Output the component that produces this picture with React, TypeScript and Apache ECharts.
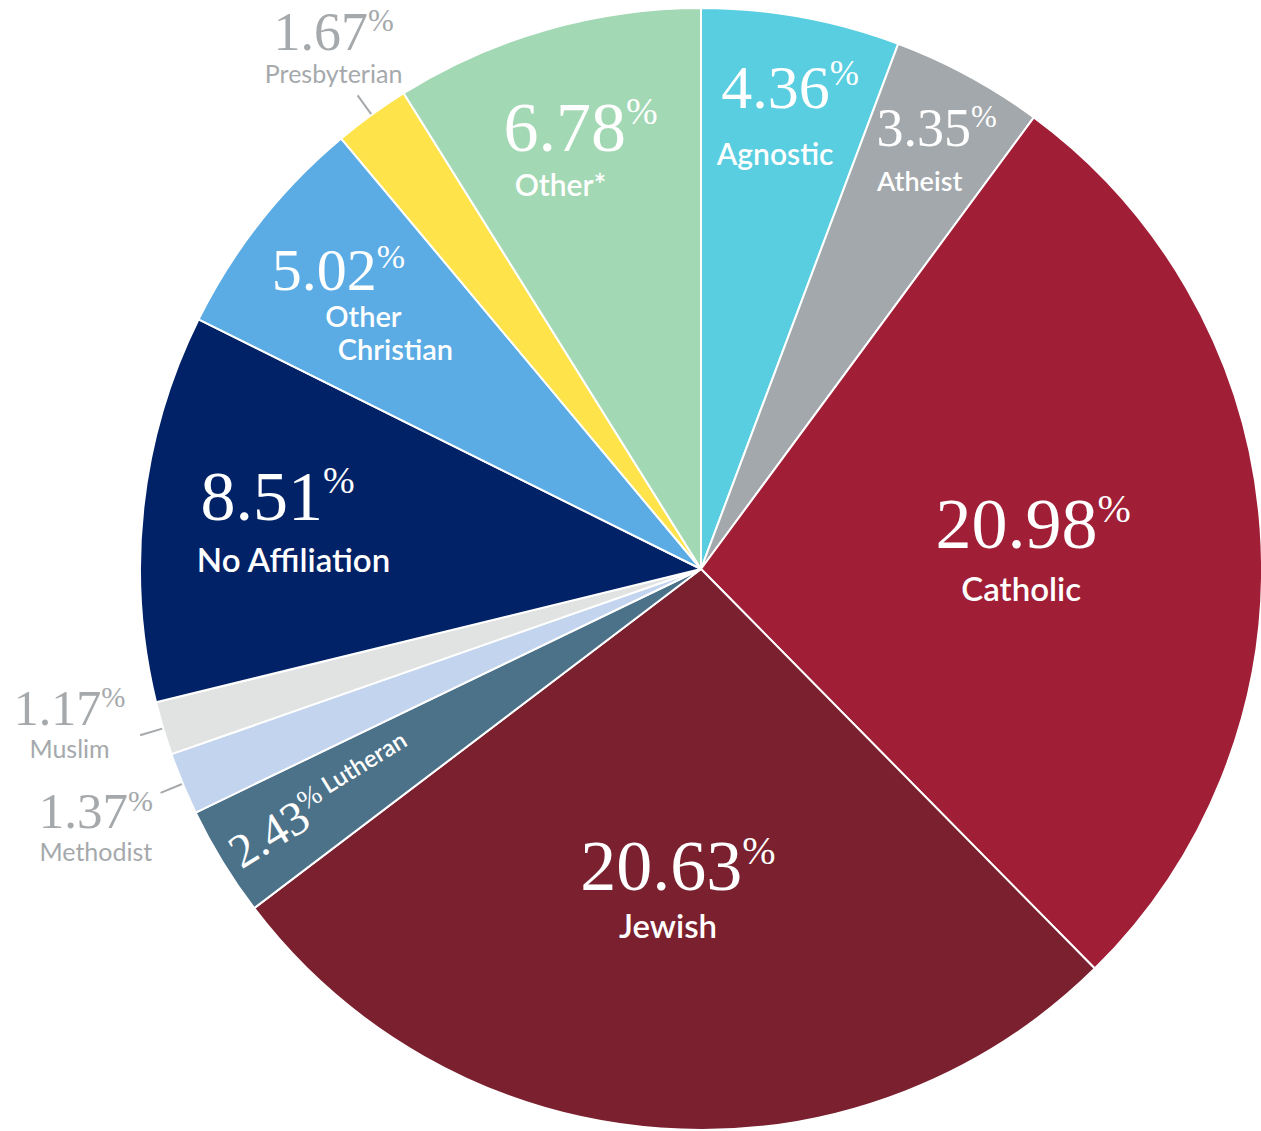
import React, { useEffect, useRef } from 'react';
import * as echarts from 'echarts';

// ---- Data ----
const categories = [
  'Agnostic',
  'Atheist',
  'Catholic',
  'Jewish',
  'Lutheran',
  'Methodist',
  'Muslim',
  'No Affiliation',
  'Other Christian',
  'Presbyterian',
  'Other*',
];
const values = [4.36, 3.35, 20.98, 20.63, 2.43, 1.37, 1.17, 8.51, 5.02, 1.67, 6.78];
const colors = [
  '#58CEE0',
  '#A2A8AB',
  '#A01E36',
  '#7A202E',
  '#4C7289',
  '#C2D4EE',
  '#E1E2E2',
  '#012266',
  '#5BACE4',
  '#FEE44A',
  '#A3D8B4',
];

// ---- Styles ----
const SERIF = '"Liberation Serif", "Times New Roman", serif';
const SANS = 'Lato, "Open Sans", sans-serif';
const GRAY = '#A5A9AC';
const CENTER = [701, 569];
const R = 561;

type LabelStyle = {
  r: number;
  ns: number;
  ps: number;
  ls: number;
  lh: number;
  lh2?: number;
  outside?: boolean;
  inline?: boolean;
  rotate?: any;
  display?: string;
  pPadR?: number;
  lPadR?: number;
  lPadL?: number;
  l2PadL?: number;
  pad?: number[];
};

const labelStyles: Record<string, LabelStyle> = {
  Agnostic: { r: 451, ns: 62, ps: 35, ls: 30, lh: 70, lPadR: 30, pad: [0, 0, 0, 16] },
  Atheist: { r: 470, ns: 54, ps: 31, ls: 27, lh: 50, lPadR: 34, pad: [0, 0, 0, 20] },
  Catholic: { r: 330, ns: 72, ps: 40, ls: 33, lh: 56, lPadR: 24, pad: [14, 0, 0, 0] },
  Jewish: { r: 318, ns: 72, ps: 40, ls: 33, lh: 46, lPadR: 20 },
  Lutheran: { r: 442, ns: 48, ps: 28, ls: 24, lh: 38, inline: true, rotate: 'radial' },
  Methodist: { r: 652, ns: 51, ps: 30, ls: 25, lh: 30, outside: true, pad: [12, 0, 0, 0] },
  Muslim: { r: 641, ns: 50, ps: 29, ls: 25, lh: 30, outside: true, pad: [0, 28, 58, 0] },
  'No Affiliation': { r: 407, ns: 70, ps: 38, ls: 33, lh: 55, pPadR: 32 },
  'Other Christian': { r: 427, ns: 60, ps: 34, ls: 29, lh: 32, lh2: 34, display: 'Other\nChristian', pPadR: 50, l2PadL: 64 },
  Presbyterian: { r: 640, ns: 54, ps: 31, ls: 25, lh: 28, outside: true, pad: [0, 0, 4, 20] },
  'Other*': { r: 434, ns: 70, ps: 38, ls: 30, lh: 43, lPadR: 40 },
};

function buildOption() {
  const mainSeries: any = {
    type: 'pie',
    center: CENTER,
    radius: [0, R],
    startAngle: 90,
    clockwise: true,
    avoidLabelOverlap: false,
    silent: true,
    emphasis: { disabled: true },
    label: { show: false },
    labelLine: { show: false },
    itemStyle: { borderColor: '#ffffff', borderWidth: 2 },
    data: categories.map((c, i) => {
      const st = labelStyles[c];
      const item: any = { name: c, value: values[i], itemStyle: { color: colors[i] } };
      if (st && st.outside) {
        item.label = { show: true, position: 'outside', formatter: ' ', fontSize: 2 };
        item.labelLine = {
          show: true,
          length: 24,
          length2: 0,
          lineStyle: { color: GRAY, width: 2 },
        };
      }
      return item;
    }),
  };

  const labelSeries = categories.map((c, idx) => {
    const st = labelStyles[c];
    const col = st.outside ? GRAY : '#ffffff';
    const weight = st.outside ? 400 : 600;
    const num = values[idx].toFixed(2);
    const nameText = st.display ?? c;
    let text: string;
    if (st.inline) {
      text = `{n|${num}}{p|%}{l| ${nameText}}`;
    } else {
      const lines = nameText.split('\n');
      text = `{n|${num}}{p|%}\n` + lines.map((ln, k) => `{${k === 0 ? 'l' : 'l2'}|${ln}}`).join('\n');
    }
    return {
      type: 'pie',
      center: CENTER,
      radius: [st.r - 1, st.r + 1],
      startAngle: 90,
      clockwise: true,
      avoidLabelOverlap: false,
      silent: true,
      z: 5,
      emphasis: { disabled: true },
      itemStyle: { color: 'rgba(0,0,0,0)', borderWidth: 0 },
      labelLine: { show: false },
      data: categories.map((c2, j) => ({
        name: c2,
        value: values[j],
        label: { show: j === idx },
      })),
      label: {
        position: 'inside',
        rotate: st.rotate ?? 0,
        padding: st.pad ?? 0,
        formatter: () => text,
        rich: {
          n: { fontFamily: SERIF, fontSize: st.ns, lineHeight: st.ns, color: col },
          p: {
            fontFamily: SERIF,
            fontSize: st.ps,
            lineHeight: st.ps,
            verticalAlign: 'top',
            color: col,
            padding: [0, st.pPadR ?? 0, 0, 0],
          },
          l: {
            fontFamily: SANS,
            fontSize: st.ls,
            fontWeight: weight,
            lineHeight: st.lh,
            color: col,
            verticalAlign: st.inline ? 'top' : 'middle',
            padding: [0, st.lPadR ?? 0, 0, st.lPadL ?? 0],
          },
          l2: {
            fontFamily: SANS,
            fontSize: st.ls,
            fontWeight: weight,
            lineHeight: st.lh2 ?? st.lh,
            color: col,
            padding: [0, 0, 0, st.l2PadL ?? 0],
          },
        },
      },
    };
  });

  return {
    animation: false,
    backgroundColor: '#ffffff',
    series: [mainSeries, ...labelSeries],
  };
}

export default function App() {
  const ref = useRef<HTMLDivElement>(null);
  useEffect(() => {
    document.body.style.margin = '0';
    const chart = echarts.init(ref.current!, null, { renderer: 'svg' });
    chart.setOption(buildOption() as any);
    return () => chart.dispose();
  }, []);
  return (
    <div
      ref={ref}
      style={{ position: 'fixed', left: 0, top: 0, width: 1261, height: 1131, background: '#ffffff' }}
    />
  );
}
